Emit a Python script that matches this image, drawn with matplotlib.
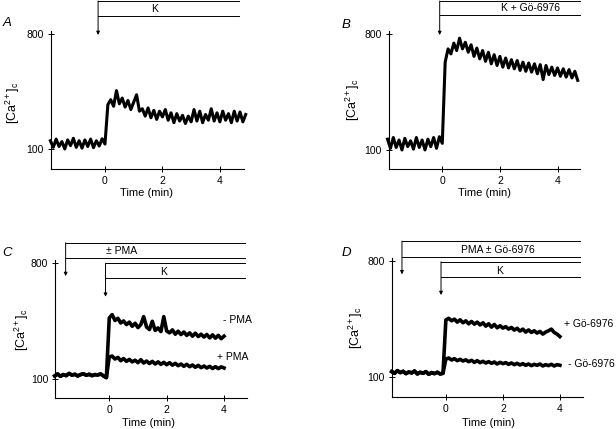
import numpy as np
import matplotlib
matplotlib.use("Agg")
import matplotlib.pyplot as plt

plt.rcParams['font.family'] = ['Liberation Sans', 'DejaVu Sans']
plt.rcParams['mathtext.fontset'] = 'custom'
plt.rcParams['mathtext.rm'] = 'Liberation Sans'
plt.rcParams['mathtext.it'] = 'Liberation Sans:italic'

# ---------------- data ----------------
T_STEP = 0.1
# Panel A: K
tA_start = -1.9
caA = [150, 110, 160, 115, 145, 100, 155, 120, 165, 110, 150, 105, 155, 115, 160, 108, 150, 118, 162,
       130, 370, 400, 360, 455, 375, 410, 355, 395, 340, 385, 430, 330,
       345, 300, 350, 290, 335, 280, 330, 295, 340, 275, 320, 260, 315, 270, 305, 255, 300, 265, 340,
       270, 330, 260, 310, 275, 345, 270, 320, 265, 330, 275, 315, 260, 330, 270, 325, 265, 310]
# Panel B: K + Go-6976
tB_start = -1.9
caB = [165, 110, 175, 115, 160, 100, 170, 120, 155, 105, 175, 115, 160, 100, 165, 120, 175, 110, 180,
       140, 630, 710, 680, 745, 700, 775, 710, 750, 690, 735, 665, 715, 650, 700, 635, 690, 620, 675,
       610, 665, 600, 655, 595, 645, 590, 640, 580, 630, 575, 625, 570, 620, 560, 615, 525, 610, 555,
       600, 550, 595, 545, 590, 540, 585, 535, 575, 520]
# Panel C: +/- PMA
tC_start = -1.9
baseC = [120, 132, 118, 128, 122, 135, 125, 130, 120, 128, 133, 124, 130, 122, 128, 126, 132, 120, 110]
minus_pma = [470, 490, 455, 468, 440, 452, 430, 445, 420, 438, 412, 430, 478, 415, 400, 450, 395, 410,
             388, 478, 392, 380, 398, 372, 390, 370, 385, 365, 380, 360, 378, 358, 372, 355, 370, 350,
             368, 348, 365, 345, 360]
plus_pma = [235, 240, 222, 232, 212, 225, 208, 220, 205, 215, 200, 218, 198, 210, 195, 208, 192, 205,
            190, 202, 188, 200, 185, 196, 182, 192, 178, 190, 176, 186, 172, 184, 170, 180, 168, 178,
            165, 176, 164, 175, 168]
# Panel D: PMA +/- Go-6976
tD_start = -1.9
baseD = [134, 124, 140, 128, 136, 122, 132, 126, 138, 120, 130, 124, 134, 118, 128, 122, 130, 120, 124]
plus_go = [445, 455, 440, 450, 432, 446, 428, 440, 422, 436, 420, 432, 415, 428, 408, 422, 402, 418,
           398, 410, 396, 405, 390, 400, 384, 395, 378, 390, 372, 385, 370, 380, 366, 376, 360, 372,
           380, 390, 370, 360, 345]
minus_go = [210, 216, 204, 212, 200, 208, 198, 205, 194, 202, 190, 200, 188, 196, 186, 194, 184, 192,
            180, 190, 182, 188, 178, 186, 176, 184, 174, 182, 172, 180, 170, 178, 172, 180, 168, 176,
            170, 178, 168, 176, 172]

ytick_vals = [100, 800]
ytick_labels = ["100", "800"]
xtick_vals = [0, 2, 4]
xtick_labels = ["0", "2", "4"]

W, H = 616, 429
fig = plt.figure(figsize=(W / 100, H / 100), dpi=100)


def make_ax(l, r, top, bot, xlim, ylim):
    ax = fig.add_axes([l / W, 1 - bot / H, (r - l) / W, (bot - top) / H])
    ax.set_xlim(*xlim)
    ax.set_ylim(*ylim)
    for s in ['top', 'right']:
        ax.spines[s].set_visible(False)
    for s in ['left', 'bottom']:
        ax.spines[s].set_linewidth(0.8)
    ax.set_xticks(xtick_vals)
    ax.set_xticklabels(xtick_labels)
    ax.set_yticks(ytick_vals)
    ax.set_yticklabels(ytick_labels)
    ax.tick_params(direction='inout', length=4, width=0.7, labelsize=7.5, pad=3)
    ax.patch.set_alpha(0)
    return ax


def times(start, n):
    return start + T_STEP * np.arange(n)


def trace(ax, t, y, lw=2.6):
    ax.plot(t, y, color='black', lw=lw, solid_joinstyle='round', clip_on=False)


def bar(ax, x0, x1, ytop, ybot, ytip, label, xlab, ylab):
    kw = dict(color='black', lw=0.7, clip_on=False)
    ax.plot([x0, x1], [ytop, ytop], **kw)
    ax.plot([x0, x1], [ybot, ybot], **kw)
    ax.annotate('', xy=(x0, ytip), xytext=(x0, ytop), annotation_clip=False,
                arrowprops=dict(arrowstyle='-|>', lw=0.7, color='black',
                                mutation_scale=5, shrinkA=0, shrinkB=0))
    ax.text(xlab, ylab, label, ha='center', va='center', fontsize=7.5, clip_on=False)


ylabel = '[Ca$^{2+}$]$_\\mathrm{c}$'

# Panel A
axA = make_ax(50.7, 244, 30.7, 169, (-1.89, 4.84), (-22, 820))
tA = times(tA_start, len(caA))
trace(axA, tA, caA, lw=2.2)
bar(axA, -0.24, 4.67, 1001, 910, 794, 'K', 1.74, 952)

# Panel B
axB = make_ax(388.7, 580, 30.7, 169, (-1.86, 4.78), (-15, 820))
tB = times(tB_start, len(caB))
trace(axB, tB, caB, lw=2.2)
bar(axB, -0.09, 4.78, 999, 915, 794, 'K + Gö-6976', 3.05, 957)

# Panel C
axC = make_ax(55.3, 247.3, 260, 398.3, (-1.88, 4.81), (-15, 820))
tC = times(tC_start, len(baseC) + len(minus_pma))
trace(axC, tC, baseC + minus_pma)
trace(axC, tC, baseC + plus_pma)
bar(axC, -1.52, 4.73, 924, 834, 723, '± PMA', 0.43, 874)
bar(axC, -0.13, 4.73, 800, 709, 598, 'K', 1.88, 749)
axC.text(3.95, 458, '- PMA', ha='left', va='center', fontsize=7.5, clip_on=False)
axC.text(3.74, 236, '+ PMA', ha='left', va='center', fontsize=7.5, clip_on=False)

# Panel D
axD = make_ax(391.7, 582.7, 257.7, 396.7, (-1.9, 4.8), (-17, 820))
tD = times(tD_start, len(baseD) + len(plus_go))
trace(axD, tD, baseD + plus_go)
trace(axD, tD, baseD + minus_go)
bar(axD, -1.54, 4.70, 920, 826, 720, 'PMA ± Gö-6976', 1.81, 866)
bar(axD, -0.17, 4.70, 796, 705, 595, 'K', 1.9, 740)
axD.text(4.15, 419, '+ Gö-6976', ha='left', va='center', fontsize=7.5, clip_on=False)
axD.text(4.27, 178, '- Gö-6976', ha='left', va='center', fontsize=7.5, clip_on=False)

# Figure-level labels (pixel positions)
def ftext(x, y, s, **kw):
    fig.text(x / W, 1 - y / H, s, **kw)

for (x, y) in [(13, 103), (352.7, 100), (21.7, 330), (356, 328)]:
    ftext(x, y, ylabel, rotation=90, ha='center', va='center', fontsize=9)
for (x, y) in [(146.7, 193), (484.3, 193), (148, 422.7), (489, 422.7)]:
    ftext(x, y, 'Time (min)', ha='center', va='center', fontsize=8)
for (x, y, s) in [(7, 22.7, 'A'), (346, 25, 'B'), (7, 253, 'C'), (346, 253, 'D')]:
    ftext(x, y, s, ha='center', va='center', fontsize=9.5, style='italic')

fig.savefig('out.png', dpi=100)
